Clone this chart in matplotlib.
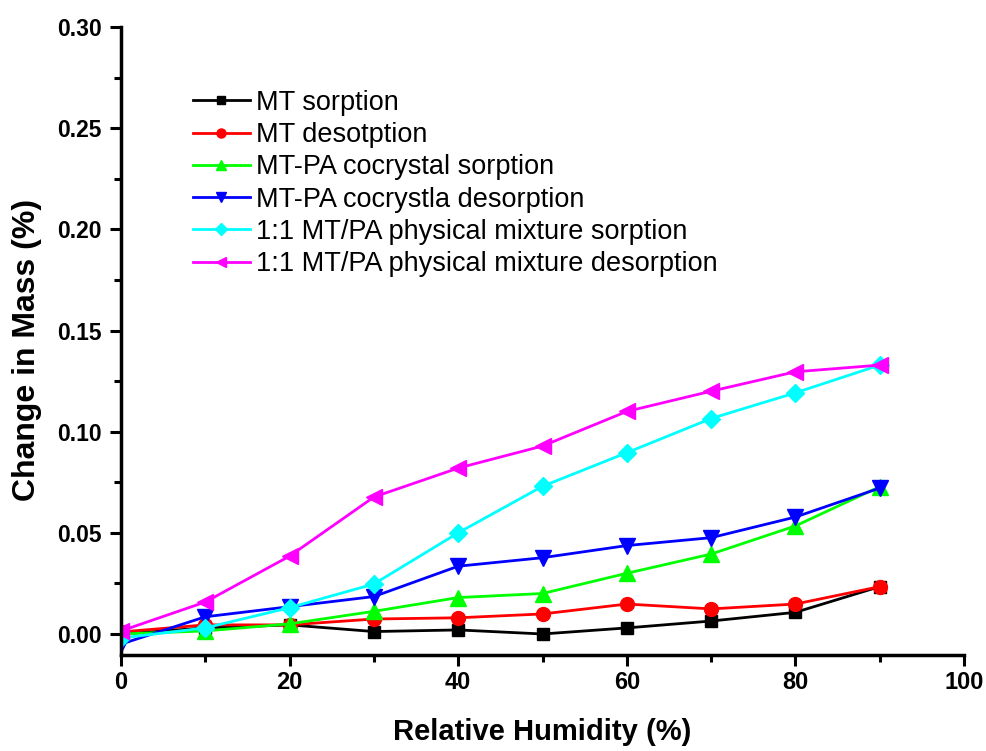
import numpy as np
import matplotlib.pyplot as plt
from matplotlib.ticker import MultipleLocator, FormatStrFormatter

rh = [0, 10, 20, 30, 40, 50, 60, 70, 80, 90]

mt_sorp = [0.0, 0.003, 0.0045, 0.0012, 0.002, 0.0, 0.003, 0.0064, 0.0107, 0.0234]
mt_desorp = [0.001, 0.0045, 0.0045, 0.0074, 0.008, 0.0099, 0.0148, 0.0124, 0.0148, 0.0234]
co_sorp = [0.0, 0.0015, 0.005, 0.0112, 0.018, 0.020, 0.030, 0.0395, 0.0534, 0.0728]
co_desorp = [-0.005, 0.0085, 0.0135, 0.0185, 0.0335, 0.0377, 0.0437, 0.0476, 0.0578, 0.0721]
pm_sorp = [-0.002, 0.003, 0.013, 0.0247, 0.050, 0.073, 0.0896, 0.1065, 0.1192, 0.1329]
pm_desorp = [0.0015, 0.0158, 0.0385, 0.0677, 0.082, 0.0929, 0.110, 0.120, 0.1296, 0.1329]

labels = ["MT sorption", "MT desotption", "MT-PA cocrystal sorption",
          "MT-PA cocrystla desorption", "1:1 MT/PA physical mixture sorption",
          "1:1 MT/PA physical mixture desorption"]
series = [mt_sorp, mt_desorp, co_sorp, co_desorp, pm_sorp, pm_desorp]
colors = ["#000000", "#ff0000", "#00ff00", "#0000ff", "#00ffff", "#ff00ff"]
markers = ["s", "o", "^", "v", "D", "<"]
msizes = [9, 10, 11, 11, 9, 11]

plt.rcParams['font.family'] = ['Liberation Sans', 'DejaVu Sans']

fig = plt.figure(figsize=(9.87, 7.51), dpi=100)
ax = fig.add_axes([0.1226, 0.1278, 0.8541, 0.8362])

for y, lab, c, m, ms in zip(series, labels, colors, markers, msizes):
    ax.plot(rh, y, color=c, marker=m, markersize=ms, linewidth=2, label=lab)

ax.set_xlim(0, 100)
ax.set_ylim(-0.0104, 0.30)
ax.xaxis.set_major_locator(MultipleLocator(20))
ax.xaxis.set_minor_locator(MultipleLocator(10))
ax.yaxis.set_major_locator(MultipleLocator(0.05))
ax.yaxis.set_minor_locator(MultipleLocator(0.025))
ax.yaxis.set_major_formatter(FormatStrFormatter('%.2f'))

for s in ['top', 'right']:
    ax.spines[s].set_visible(False)
for s in ['left', 'bottom']:
    ax.spines[s].set_linewidth(2.5)

ax.tick_params(which='major', direction='out', length=8, width=2.2)
ax.tick_params(which='minor', direction='out', length=5, width=2.2)
ax.tick_params(axis='y', pad=6)

for t in ax.get_yticklabels():
    t.set_fontsize(16.5)
    t.set_fontweight('bold')
for t in ax.get_xticklabels():
    t.set_fontsize(17)
    t.set_fontweight('bold')

ax.set_ylabel("Change in Mass (%)", fontsize=23, fontweight='bold')
ax.yaxis.set_label_coords(-0.094, 0.486)
ax.set_xlabel("Relative Humidity (%)", fontsize=21, fontweight='bold', labelpad=17)

leg = ax.legend(loc='upper left', bbox_to_anchor=(0.085, 0.9), frameon=False,
                fontsize=19.5, markerscale=0.65, handlelength=2.1, handletextpad=0.25,
                labelspacing=0.23, borderpad=0, borderaxespad=0)

fig.savefig("out.png", dpi=100)
